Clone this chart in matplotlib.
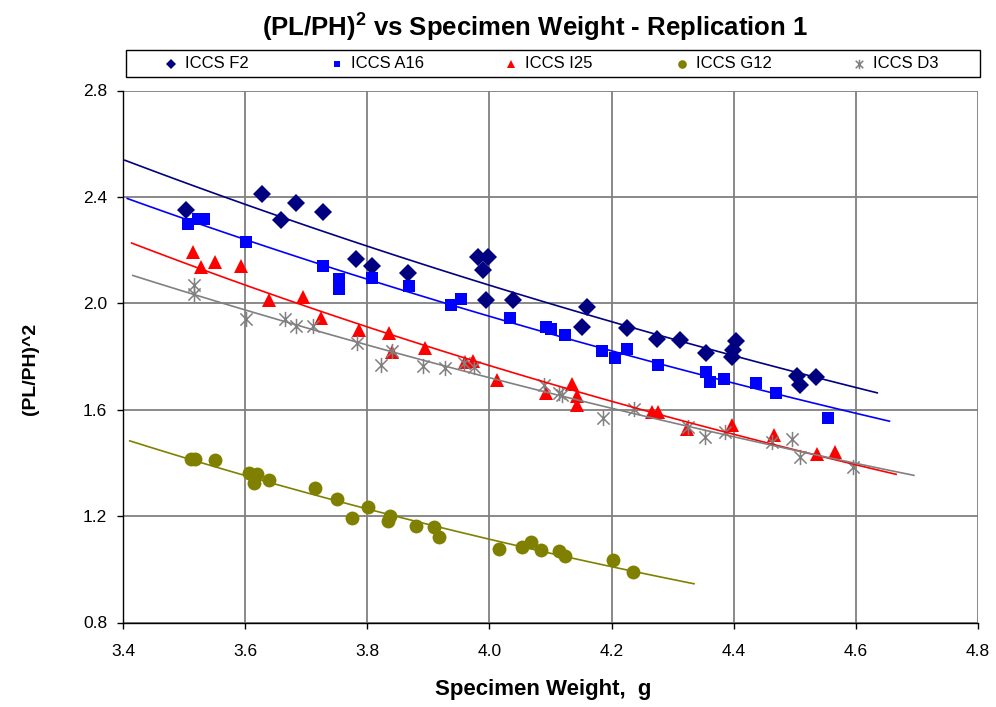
#!/usr/bin/env python3

import numpy as np
import matplotlib
matplotlib.use("Agg")
import matplotlib.pyplot as plt
from matplotlib.path import Path
from matplotlib.patches import Rectangle

plt.rcParams["font.family"] = ["Liberation Sans", "DejaVu Sans"]
plt.rcParams["mathtext.fontset"] = "custom"
plt.rcParams["mathtext.rm"] = "Liberation Sans"
plt.rcParams["mathtext.bf"] = "Liberation Sans:bold"

# ICCS F2
f2_x = [3.503, 3.628, 3.658, 3.683, 3.727, 3.782, 3.807, 3.866, 3.981, 3.989,
        3.997, 3.995, 4.039, 4.159, 4.151, 4.226, 4.275, 4.312, 4.355, 4.404,
        4.399, 4.398, 4.504, 4.508, 4.535]
f2_y = [2.351, 2.411, 2.313, 2.378, 2.342, 2.165, 2.140, 2.115, 2.175, 2.124,
        2.175, 2.012, 2.012, 1.985, 1.910, 1.906, 1.865, 1.862, 1.812, 1.858,
        1.824, 1.797, 1.728, 1.692, 1.724]

# ICCS A16
a16_x = [3.507, 3.522, 3.533, 3.602, 3.727, 3.754, 3.753, 3.808, 3.868, 3.937,
         3.953, 4.034, 4.093, 4.101, 4.123, 4.185, 4.205, 4.225, 4.276, 4.354,
         4.361, 4.384, 4.437, 4.469, 4.555]
a16_y = [2.297, 2.316, 2.316, 2.230, 2.139, 2.090, 2.053, 2.096, 2.065, 1.994,
         2.015, 1.944, 1.912, 1.902, 1.881, 1.820, 1.794, 1.827, 1.768, 1.743,
         1.705, 1.714, 1.701, 1.664, 1.568]

# ICCS I25
i25_x = [3.514, 3.527, 3.550, 3.593, 3.639, 3.695, 3.724, 3.787, 3.835, 3.840,
         3.894, 3.960, 3.973, 4.013, 4.092, 4.135, 4.144, 4.144, 4.267, 4.276,
         4.324, 4.398, 4.466, 4.537, 4.566]
i25_y = [2.192, 2.138, 2.156, 2.141, 2.014, 2.023, 1.944, 1.900, 1.887, 1.818,
         1.831, 1.780, 1.784, 1.712, 1.664, 1.697, 1.653, 1.618, 1.593, 1.593,
         1.526, 1.543, 1.505, 1.433, 1.442]

# ICCS G12
g12_x = [3.511, 3.518, 3.551, 3.607, 3.620, 3.615, 3.639, 3.715, 3.750, 3.775,
         3.801, 3.838, 3.834, 3.879, 3.910, 3.917, 4.015, 4.053, 4.068, 4.084,
         4.114, 4.124, 4.202, 4.235]
g12_y = [1.414, 1.414, 1.411, 1.361, 1.358, 1.326, 1.336, 1.307, 1.263, 1.192,
         1.236, 1.200, 1.182, 1.163, 1.160, 1.120, 1.076, 1.085, 1.101, 1.073,
         1.070, 1.050, 1.035, 0.991]

# ICCS D3
d3_x = [3.516, 3.516, 3.602, 3.666, 3.684, 3.711, 3.783, 3.822, 3.840, 3.891,
        3.928, 3.958, 3.975, 4.089, 4.114, 4.119, 4.186, 4.237, 4.325, 4.353,
        4.386, 4.462, 4.496, 4.509, 4.595]
d3_y = [2.069, 2.035, 1.942, 1.940, 1.915, 1.915, 1.851, 1.768, 1.822, 1.764,
        1.756, 1.777, 1.762, 1.693, 1.662, 1.655, 1.570, 1.603, 1.536, 1.499,
        1.517, 1.480, 1.489, 1.421, 1.383]

x_ticks = [3.4, 3.6, 3.8, 4.0, 4.2, 4.4, 4.6, 4.8]
y_ticks = [0.8, 1.2, 1.6, 2.0, 2.4, 2.8]

# Excel-style asterisk: vertical bar plus an X
asterisk = Path(
    [(0, -1), (0, 1), (-0.8, -0.8), (0.8, 0.8), (-0.8, 0.8), (0.8, -0.8)],
    [Path.MOVETO, Path.LINETO, Path.MOVETO, Path.LINETO, Path.MOVETO, Path.LINETO],
)

series = [
    ("ICCS F2", f2_x, f2_y, "#000080", "D", 9),
    ("ICCS A16", a16_x, a16_y, "#0000FF", "s", 8),
    ("ICCS I25", i25_x, i25_y, "#FF0000", "^", 10),
    ("ICCS G12", g12_x, g12_y, "#808000", "o", 10),
    ("ICCS D3", d3_x, d3_y, "#808080", asterisk, 11),
]


def draw_markers(axis, xs, ys, color, marker, ms):
    if marker is asterisk:
        axis.plot(xs, ys, linestyle="none", marker=marker, markersize=ms,
                  markerfacecolor="none", markeredgecolor=color,
                  markeredgewidth=1.1, zorder=3)
    else:
        axis.plot(xs, ys, linestyle="none", marker=marker, markersize=ms,
                  color=color, markeredgewidth=0, zorder=3)


fig = plt.figure(figsize=(9.96, 7.07), dpi=100)
ax = fig.add_axes([123 / 996, 1 - 622.5 / 707, (978 - 123) / 996, (622.5 - 90.5) / 707])

for label, xs, ys, color, marker, ms in series:
    xs = np.array(xs)
    ys = np.array(ys)
    draw_markers(ax, xs, ys, color, marker, ms)

    # exponential trendline, forecast 0.1 both ways
    b, a = np.polyfit(xs, np.log(ys), 1)
    tx = np.linspace(xs.min() - 0.1, xs.max() + 0.1, 100)
    ax.plot(tx, np.exp(a + b * tx), color=color, linewidth=1.2, zorder=4)

ax.set_xlim(3.4, 4.8)
ax.set_ylim(0.8, 2.8)
ax.set_xticks(x_ticks)
ax.set_yticks(y_ticks)
ax.set_xticklabels([f"{v:.1f}" for v in x_ticks])
ax.set_yticklabels([f"{v:.1f}" for v in y_ticks])
ax.tick_params(direction="out", length=4.3, width=1, labelsize=12.5)
ax.tick_params(axis="x", pad=11)
ax.tick_params(axis="y", pad=7)
ax.grid(True, color="#808080", linewidth=1.3)
ax.set_axisbelow(True)
for side in ["top", "right"]:
    ax.spines[side].set_visible(False)
for side in ["left", "bottom"]:
    ax.spines[side].set_color("black")
    ax.spines[side].set_linewidth(1)

ax.set_xlabel("Specimen Weight,  g", fontsize=16, fontweight="bold")
ax.xaxis.set_label_coords((543 - 123) / 855, -(690 - 622.5) / 532, transform=ax.transAxes)
ax.xaxis.label.set_va("center")
ax.set_ylabel("(PL/PH)^2", fontsize=14, fontweight="bold")
ax.yaxis.set_label_coords((30 - 123) / 855, 1 - (369 - 90.5) / 532, transform=ax.transAxes)
ax.yaxis.label.set_va("center")

fig.text(535 / 996, 1 - 27 / 707, r"(PL/PH)$^\mathbf{2}$ vs Specimen Weight - Replication 1",
         ha="center", va="center", fontsize=18.5, fontweight="bold")

# legend box drawn in pixel space on an overlay
lx = fig.add_axes([0, 0, 1, 1], facecolor="none")
lx.set_xlim(0, 996)
lx.set_ylim(707, 0)
lx.axis("off")
lx.add_patch(Rectangle((126, 50), 854, 27, fill=False, edgecolor="black", linewidth=1))
legend_marker_x = [171, 337, 511, 682, 859]
for (label, xs, ys, color, marker, ms), mx in zip(series, legend_marker_x):
    draw_markers(lx, [mx], [63.5], color, marker, ms * 0.62)
    lx.text(mx + 14, 63.5, label, fontsize=12, ha="left", va="center")

fig.savefig("out.png", dpi=100)
